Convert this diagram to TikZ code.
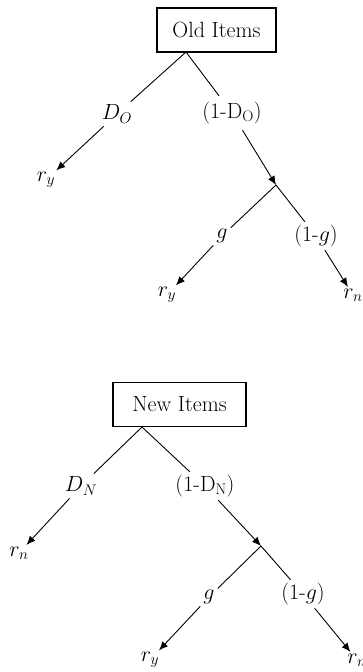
\RequirePackage{fix-cm}
\documentclass[tikz,border=0pt]{standalone}
\usepackage{fontspec}
\usetikzlibrary{arrows.meta}
\tikzset{
  itembox/.style={draw, line width=1.4pt, minimum width=#1, minimum height=44pt, inner sep=0pt},
  lbl/.style={inner sep=3pt},
  leaf/.style={inner sep=1.5pt},
  branch/.style={line width=0.9pt},
  arr/.style={line width=0.9pt, -{Latex[length=9pt,width=7.5pt]}}
}
\begin{document}
\begin{tikzpicture}[x=1pt,y=-1pt,font=\fontsize{22}{26}\selectfont]
\useasboundingbox (0,0) rectangle (362,672);

% ---- Old items ----
\node[itembox=119pt] (old) at (216.5,30) {Old Items};
\coordinate (oa) at (186,52);
\node[lbl] (do)  at (117,114) {$D_O$};
\node[lbl,inner ysep=6pt] (ndo) at (232,113) {(1-D\textsubscript{O})};
\node[leaf] (ry1) at (46,180) {$r_y$};
\coordinate (j1) at (276,185);
\node[lbl] (g1)  at (222,236) {$g$};
\node[lbl] (ng1) at (316,236) {(1-$g$)};
\node[leaf] (ry2) at (167,295) {$r_y$};
\node[leaf] (rn1) at (353,295) {$r_n$};

\draw[branch] (oa) -- (do);
\draw[arr] (do) -- (ry1);
\draw[branch] (oa) -- (ndo);
\draw[arr] (ndo) -- (j1);
\draw[branch] (j1) -- (g1);
\draw[arr] (g1) -- (ry2);
\draw[branch] (j1) -- (ng1);
\draw[arr] (ng1) -- (rn1);

% ---- New items ----
\node[itembox=133pt] (new) at (179.5,404.5) {New Items};
\coordinate (na) at (142,427);
\node[lbl] (dn)  at (81,486) {$D_N$};
\node[lbl] (ndn) at (205,486) {(1-D\textsubscript{N})};
\node[leaf] (rn2) at (19,553) {$r_n$};
\coordinate (j2) at (261,546);
\node[lbl] (g2)  at (209,597) {$g$};
\node[lbl] (ng2) at (303,594) {(1-$g$)};
\node[leaf] (ry3) at (150,660) {$r_y$};
\node[leaf] (rn3) at (357,660) {$r_n$};

\draw[branch] (na) -- (dn);
\draw[arr] (dn) -- (rn2);
\draw[branch] (na) -- (ndn);
\draw[arr] (ndn) -- (j2);
\draw[branch] (j2) -- (g2);
\draw[arr] (g2) -- (ry3);
\draw[branch] (j2) -- (ng2);
\draw[arr] (ng2) -- (rn3);
\end{tikzpicture}
\end{document}
